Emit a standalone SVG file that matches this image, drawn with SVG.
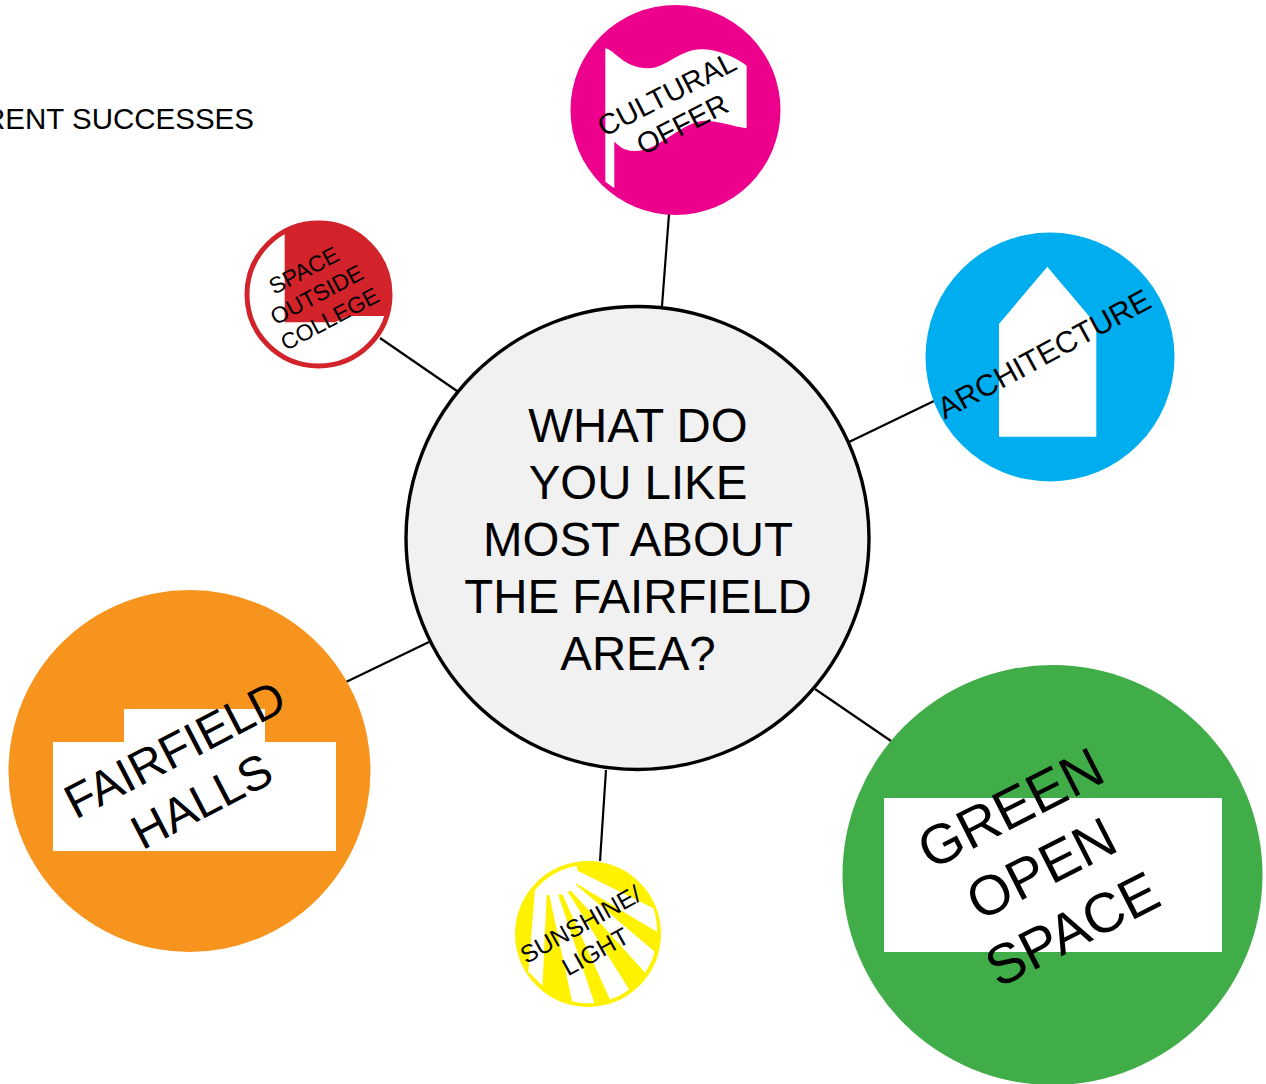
<svg xmlns="http://www.w3.org/2000/svg" width="1266" height="1084" viewBox="0 0 1266 1084">
<style>
text{font-family:"Liberation Sans",Arial,sans-serif;fill:#000;text-anchor:middle}
.w{fill:#fff}
.c line{stroke:#000;stroke-width:2.2}
</style>
<rect width="1266" height="1084" fill="#fff"/>
<g id="connectors" class="c">
<line x1="669" y1="214" x2="662" y2="306"/>
<line x1="380" y1="338" x2="457" y2="391"/>
<line x1="934" y1="401" x2="849" y2="442"/>
<line x1="815" y1="689" x2="891" y2="741"/>
<line x1="606" y1="770" x2="600" y2="861"/>
<line x1="346" y1="682" x2="429" y2="642"/>
</g>
<text id="fragment" x="-16" y="129" font-size="29.5" style="text-anchor:start">RENT SUCCESSES</text>
<g id="centre">
<circle cx="637.5" cy="538" r="231.500" fill="#f1f1f1" stroke="#000" stroke-width="3.4"/>
<g font-size="47.4"><text x="638" y="441.500">WHAT DO</text><text x="638" y="498.500">YOU LIKE</text><text x="638" y="555.500">MOST ABOUT</text><text x="638" y="612.500">THE FAIRFIELD</text><text x="638" y="669.500">AREA?</text></g>
</g>
<g id="cultural-offer">
<circle cx="675.5" cy="110" r="105" fill="#ec008c"/>
<path class="w" transform="translate(560 0) scale(.3333)" d="M136,145C165,150 190,205 265,205C320,205 360,145 430,148C480,150 530,175 560,197L560,385C520,378 480,365 440,362C370,360 300,450 230,453C190,455 175,435 163,425L163,565L136,545Z"/>
<g transform="rotate(-27 675 110)" font-size="29"><text x="675" y="102">CULTURAL</text><text x="675" y="136">OFFER</text></g>
</g>
<g id="space-outside-college">
<path fill="#d2232a" transform="translate(235 210) scale(.3333)" d="M149,63A215,215 0 0 1 455,318L340,318L300,337L149,337Z"/>
<circle cx="318.5" cy="294.5" r="71.500" fill="none" stroke="#d2232a" stroke-width="5"/>
<g transform="rotate(-28 317 295)" font-size="22.8"><text x="317" y="275">SPACE</text><text x="317" y="302.500">OUTSIDE</text><text x="317" y="330">COLLEGE</text></g>
</g>
<g id="architecture">
<circle cx="1050" cy="357" r="124.5" fill="#00aeef"/>
<path class="w" d="M999,324L1047.300,266.700L1096.300,324.700V436.700H999Z"/>
<text transform="rotate(-28.500 1044 354)" x="1044" y="364.500" font-size="30.300">ARCHITECTURE</text>
</g>
<g id="green-open-space">
<circle cx="1052.500" cy="875" r="210" fill="#40ad49"/>
<rect class="w" x="884" y="798" width="338" height="154"/>
<g transform="rotate(-27 1041 868)" font-size="56"><text x="1041" y="820">GREEN</text><text x="1041" y="888">OPEN</text><text x="1041" y="956">SPACE</text></g>
</g>
<g id="fairfield-halls">
<circle cx="189.500" cy="771" r="181" fill="#f7941d"/>
<path class="w" d="M53,742H124V709H265V742H336V851H53Z"/>
<g transform="rotate(-27.500 187 773)" font-size="47.700"><text x="187" y="763">FAIRFIELD</text><text x="187" y="821">HALLS</text></g>
</g>
<g id="sunshine-light">
<circle cx="588" cy="934" r="73" fill="#fff200"/>
<g transform="translate(505 850) scale(.3333)">
<path class="w" d="M215,47A212,212 0 0 0 90,120L70,365L117,412A207,207 0 0 0 456,250A207,207 0 0 0 445,175L218,62Z"/>
<g fill="#fff200"><path d="M125,135L133,135L203,462L112,420Z"/><path d="M160,135L172,133L318,455L271,467Z"/><path d="M188,125L198,122L424,372L375,422Z"/><path d="M210,102L218,103L463,250L457,312Z"/></g>
</g>
<g transform="rotate(-29 588 938)" font-size="24.500"><text x="588" y="931">SUNSHINE/</text><text x="588" y="962">LIGHT</text></g>
</g>
</svg>
